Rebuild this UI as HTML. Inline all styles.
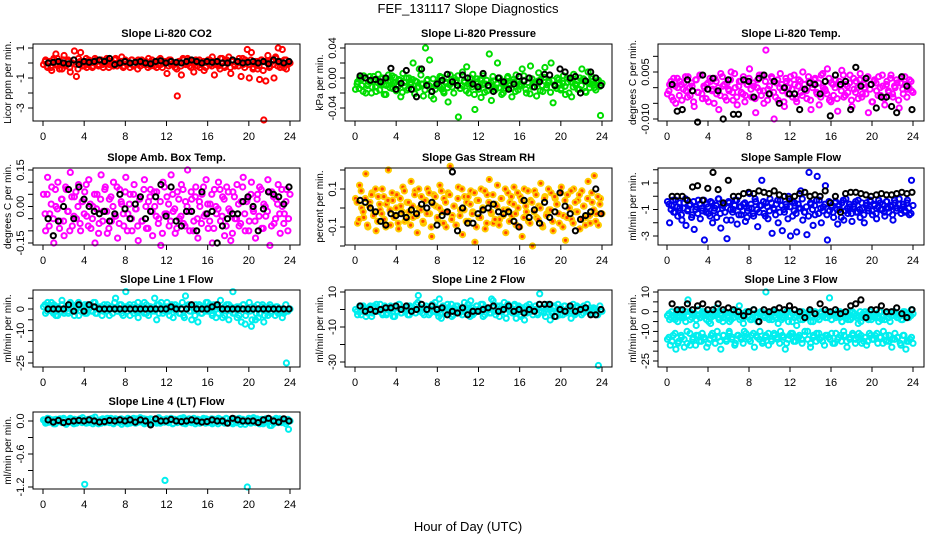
<!DOCTYPE html>
<html><head><meta charset="utf-8"><style>
body{margin:0;background:#fff}
svg{display:block;font-family:"Liberation Sans",sans-serif}
</style></head><body>
<svg id="chart" width="936" height="540" viewBox="0 0 936 540">
<rect width="936" height="540" fill="#fff"/>
<text x="468" y="13" text-anchor="middle" font-size="13">FEF_131117  Slope Diagnostics</text>
<text x="468" y="531" text-anchor="middle" font-size="13">Hour of Day (UTC)</text>
</svg>
<script>
const xTicks=[0,4,8,12,16,20,24];
const co2Color=[-0.1,0.2,-0.3,0.1,-0.5,0.3,0.6,-0.2,0.1,-0.4,0.5,-0.1,0.2,-0.6,0.0,0.8,-0.9,0.3,0.7,-0.2,0.1,-0.3,0.2,0.0,-0.2,0.3,0.1,-0.1,0.2,-0.3,0.0,0.2,-0.1,0.1,-0.2,0.3,0.0,-0.1,0.4,-0.2,0.1,0.0,-0.3,0.2,-0.1,0.1,0.2,-0.2,0.0,0.1,-0.1,0.3,-0.2,0.0,0.1,-0.3,0.2,-0.1,0.0,0.1,-0.7,0.2,-0.1,0.0,-0.3,-2.2,0.1,-0.8,0.2,-0.1,0.3,-0.2,0.0,-0.6,0.2,0.1,-0.3,0.0,-0.5,0.1,0.2,-0.1,0.4,-0.8,0.1,-0.2,0.3,0.0,-0.3,0.2,0.4,-0.7,0.1,-0.2,0.0,0.3,-0.9,-0.1,0.2,0.9,-1.0,0.7,-0.3,0.1,-0.4,-1.1,0.2,-3.8,-1.2,0.5,-0.2,0.1,-1.0,0.3,1.0,-0.3,0.9,0.2,-0.4,0.0];
const co2ColorB=[0.1,-0.2,0.0,-0.3,0.2,-0.1,0.3,-0.4,0.0,0.2,-0.2,0.1,-0.3,0.0,0.2,-0.1,-0.4,0.1,0.0,-0.2,0.3,-0.1,0.1,-0.3,0.0,0.2,-0.2,0.1,-0.1,0.0,0.3,-0.3,0.1,-0.1,0.2,-0.2,0.0,0.1,-0.3,0.2,-0.1,0.0,0.2,-0.2,0.1,-0.4,0.0,0.2,-0.1,0.1,-0.3,0.0,0.2,-0.2,0.1,-0.1,0.3,-0.3,0.0,0.1,-0.2,0.2,-0.1,0.0,-0.4,0.1,-0.2,0.3,0.0,-0.1,0.2,-0.3,0.1,0.0,-0.2,0.2,-0.1,0.1,-0.3,0.0,0.2,-0.2,0.1,-0.1,0.0,-0.4,0.3,-0.2,0.1,0.0,-0.3,0.2,-0.1,0.1,-0.2,0.0,0.3,-0.3,0.1,-0.1,0.2,-0.4,0.0,0.1,-0.2,0.2,-0.5,0.1,0.0,-0.3,0.2,-0.1,0.4,-0.2,0.0,0.1,-0.3,0.2,-0.1,0.0];
const co2Black=[0.0,0.05,0.1,0.0,-0.05,0.2,-0.1,0.1,0.05,0.1,0.2,0.1,0.3,-0.1,0.0,0.1,0.0,0.05,0.1,0.0,-0.05,0.1,0.15,0.0,0.1,0.05,0.0,0.1,0.2,0.1,0.0,0.1,0.05,0.1,0.0,0.0,0.2,0.1,0.0,0.05,0.1,0.0,0.1,-0.05,0.2,0.1,0.0,0.1];
const presColor=[-15,-5,0,-10,3,-20,-8,2,-12,-3,-18,5,-7,0,-22,-10,4,-5,-14,1,-9,-2,-25,6,-11,-16,0,-6,20,-4,-13,12,-8,-24,40,-2,24,-18,-28,-10,-5,2,-15,-20,-7,-32,4,-12,0,-3,-52,-14,8,-6,15,-20,-9,5,-42,-1,-11,-26,3,-8,-17,32,-30,-4,-13,20,0,-22,-7,-14,2,-10,-25,-5,4,-16,-8,12,-3,-20,0,16,-12,-6,-24,7,-2,-18,14,-9,-4,20,-33,-11,0,-7,-14,3,-22,-6,-2,-25,5,-10,-15,0,12,-4,-19,8,-8,-1,-13,-5,-3,-50];
const presColorB=[-8,-14,-2,-18,0,-10,-5,-20,2,-12,-6,-16,-1,-9,-22,-4,-13,3,-7,-17,-11,-3,-19,-6,0,-14,-9,-2,-21,-5,-12,4,-8,-16,-3,-10,-24,-1,-15,-7,-11,1,-18,-5,-13,-9,-2,-20,-6,3,-14,-10,-4,-17,-8,0,-12,-22,-5,-15,-1,-9,-19,-3,-11,-6,2,-16,-8,-13,-4,-20,-10,0,-7,-14,-2,-18,-5,-11,-9,3,-15,-6,-21,-1,-12,-8,-4,-17,-10,1,-13,-6,-19,-3,-9,-14,-2,-16,-7,-11,0,-20,-5,-12,-8,-3,-15,-10,-1,-18,-6,-13,2,-9,-16,-4,-11,-7];
const presBlack=[3,0,-3,-2,-5,0,13,-15,-7,10,-15,-25,12,-10,-18,-8,-3,5,-5,-10,4,0,-8,-12,6,-10,-18,0,-5,-15,-8,2,-4,0,-12,-5,5,4,-10,12,8,0,2,-20,-4,8,0,-10];
const ltempColor=[-20,10,-30,30,-50,0,20,-40,15,-10,35,-25,5,-60,25,-15,40,-35,0,10,-45,20,-5,30,-20,-70,45,5,-30,15,-10,50,-40,0,-55,20,-15,35,-25,10,60,-30,5,-80,25,-10,40,-50,120,-5,-20,30,-100,15,-40,45,-10,-60,20,0,35,-30,10,-45,25,-15,50,-5,-35,20,-70,10,30,-20,-55,40,0,-10,60,-40,15,-25,25,-75,5,55,-30,10,-15,40,-60,-5,20,-35,45,-20,0,30,-80,10,-45,25,-10,35,-25,5,-55,20,-15,40,-30,0,15,-65,30,-20,10,-5,25,-10];
const ltempColorB=[-10,20,-40,5,30,-25,10,-5,35,-30,0,15,-45,25,-15,40,-20,5,-35,15,30,-10,-50,20,0,-25,35,10,-40,-5,25,-15,45,-30,5,20,-20,-45,10,30,-5,15,-35,0,40,-25,-10,20,-40,5,35,-15,-30,25,0,10,-45,30,-20,15,-5,40,-35,5,20,-25,10,-10,35,-40,0,25,-15,15,-30,45,-5,-20,30,-45,10,0,-35,20,-10,40,-25,5,15,-40,30,-15,0,25,-30,10,-20,35,-5,-45,20,15,-25,0,40,-35,10,-10,30,-20,5,25,-40,15,-5,35,-30,0,20,-15];
const ltempBlack=[10,-75,-70,25,-10,-110,40,-5,30,-10,-100,25,-85,-85,25,20,-30,30,40,-20,20,-50,0,-20,-20,-70,-5,15,10,-20,20,-90,40,10,20,-70,65,5,30,10,-65,-30,-30,-60,-80,35,5,-70];
const boxColor=[5,-10,12,-3,8,-15,0,10,-6,3,-12,7,-2,14,-8,4,-5,9,-10,2,6,-4,11,-9,0,-15,5,-7,13,-2,8,-11,3,-6,10,-4,-13,7,1,-8,12,-3,5,-10,9,-1,-14,4,-6,11,-9,2,7,-12,0,6,-5,-16,10,-3,4,-8,13,-2,-11,6,-5,9,-7,2,15,-10,3,-6,8,-13,0,5,-4,11,-9,1,-15,7,-3,10,-6,4,-12,8,-1,-14,6,-5,9,-8,2,12,-10,3,-6,10,-2,-13,5,8,-9,1,-4,11,-16,6,-7,3,9,-11,0,-3,7,-5];
const boxColorB=[-3,5,-8,1,-5,7,-1,-9,3,-6,8,-2,-10,4,-4,6,0,-7,2,-3,9,-8,1,-5,5,-1,-11,3,-6,7,-2,-9,4,0,-4,8,-7,2,-3,6,-10,1,-5,5,-1,-8,3,-6,7,0,-9,4,-2,6,-4,-7,2,-11,8,-3,1,-6,5,-1,-9,3,-4,7,-8,0,-2,6,-10,4,-5,2,-7,8,-3,1,-6,5,-9,0,-1,7,-4,3,-8,6,-2,-11,4,-5,1,-7,8,-3,2,-10,5,-1,-6,3,-4,7,-9,0,-2,6,-8,4,-5,1,-3,7,-7,2,-10,5];
const boxBlack=[-5,-12,-6,0,7,-5,8,3,0,-2,-3,-2,-6,-3,5,-1,-5,1,4,-5,-2,4,9,-4,8,-6,-8,-2,-2,-10,6,-3,-2,-15,-8,-5,-3,-3,2,4,0,-10,-1,6,5,4,1,8];
const rhColor=[5,-8,12,0,-5,18,-10,3,8,-3,-12,6,-1,10,-6,2,20,-9,4,-4,7,-11,1,11,-7,3,-2,14,-5,9,-13,0,6,-8,4,10,-3,-15,7,1,-6,12,-2,5,-10,8,22,-4,1,-9,11,-1,-14,6,3,-7,9,-2,-18,4,-5,10,0,-11,7,15,-3,-8,2,12,-6,5,-1,-13,8,3,-4,11,-9,0,6,-15,10,-2,-7,4,-20,9,-5,1,13,-10,6,-3,-1,8,-12,5,2,-8,11,-4,-17,7,0,-6,10,-2,4,-11,9,1,-5,14,-8,3,17,-3,-9,5];
const rhColorB=[3,-6,9,-2,5,-9,1,7,-4,10,-7,2,-3,6,-10,4,-1,8,-5,0,-8,5,-2,9,-6,3,-9,1,7,-4,10,-1,-7,4,-3,8,-10,2,6,-5,0,9,-8,3,-2,7,-6,1,-9,5,-4,10,-1,-7,6,2,-3,8,-10,4,-5,0,9,-8,3,-2,7,-6,1,-9,5,-4,10,-1,-7,6,2,-3,8,-10,4,-5,1,9,-8,3,-2,7,-6,0,-9,5,-4,10,-1,-7,6,2,-3,8,-10,4,-5,0,9,-8,3,-2,7,-6,1,-9,5,-4,8,-1,-7,6,2,-3];
const rhBlack=[4,3,0,-2,-7,-9,-3,-4,-3,-5,-1,-3,2,0,3,-9,-4,-2,19,-12,0,-8,-8,-3,-1,0,2,-2,-3,-2,-7,-10,4,-5,-1,-8,3,-5,-2,8,1,-3,-12,-6,-4,-2,10,-3];
const sampColor=[-4,-20,-7,-12,-3,-15,-9,-18,-5,-22,-10,-6,-14,-25,-8,-3,-17,-11,-33,-6,-13,-4,-20,-9,-16,-2,-24,-7,-12,-32,-5,-18,-10,-3,-21,-8,-14,-6,-19,-11,2,-9,-15,-4,-23,-7,12,-13,-5,-17,-2,-28,-10,-6,-20,-3,-26,-12,-8,0,-30,-15,-5,-27,-9,4,-18,-12,-29,18,-6,-22,-14,15,-3,-20,-8,8,-33,-11,-7,-16,-4,-21,-10,-5,-18,-2,-13,-8,-19,-6,-12,-3,-16,-9,-20,-5,-11,-4,-14,-7,-17,-3,-10,-6,-15,-4,-12,-8,-18,-5,-9,-2,-13,-6,-11,-3,-14,12];
const sampColorB=[-6,-10,-3,-12,-8,-5,-14,-9,-2,-11,-7,-16,-4,-10,-13,-6,-9,-3,-12,-8,-15,-5,-11,-7,-2,-13,-9,-6,-18,-4,-10,-12,-7,-3,-14,-8,-11,-5,-16,-9,-6,-13,-2,-10,-12,-7,-4,-15,-8,-11,-5,-9,-14,-3,-12,-7,-10,-6,-17,-8,-4,-11,-13,-6,-9,-2,-12,-8,-15,-5,-10,-7,-3,-13,-9,-11,-6,-14,-4,-8,-12,-5,-10,-7,-16,-3,-11,-9,-6,-13,-8,-4,-12,-10,-5,-14,-7,-9,-3,-11,-6,-13,-8,-5,-10,-12,-4,-9,-7,-14,-3,-11,-6,-10,-8,-12,-5,-9,-13,-7];
const sampBlack=[0,0,0,-3,7,8,-3,6,18,5,-5,12,0,0,2,3,2,4,3,2,4,1,0,-2,0,2,3,0,1,0,4,-5,0,-12,2,3,3,2,1,0,1,2,1,1,2,3,2,3];
const l1Color=[1,-2,3,0,-1,2,-3,1,0,4,-2,1,-1,2,0,-3,1,3,-1,0,2,-2,0,1,-1,3,-2,0,1,-1,0,2,-3,1,0,5,-1,2,-2,0,8,1,-3,0,2,-1,-4,1,0,3,-2,0,1,-1,5,-5,2,0,-2,1,3,-1,0,-4,2,1,-2,0,-3,6,1,-1,-5,0,2,-6,1,-2,0,3,-1,2,-3,1,0,-2,4,-4,1,-1,2,0,8,-2,1,-3,0,2,-7,-1,3,-8,0,-5,2,-2,1,-6,0,-3,2,-1,0,1,-2,0,-4,-1,-25,0];
const l1ColorB=[2,-1,0,3,-2,1,-3,0,2,-1,1,-2,3,0,-1,2,-3,1,0,-2,2,1,-1,3,-2,0,1,-3,2,-1,0,1,-2,3,-1,0,2,-3,1,-1,2,0,-2,1,3,-1,0,-2,2,-3,1,0,-1,2,-2,3,0,-1,1,-3,2,0,-1,1,-2,3,-4,0,2,-1,1,-3,0,2,-2,1,-1,3,0,-2,2,-4,1,0,-1,-3,2,-5,1,-2,0,-4,1,-6,2,-3,0,-1,-5,1,-2,-4,0,2,-3,-1,1,-2,0,-3,1,-1,0,-2,2,-1,0];
const l1Black=[0,0,0,0,2,-1,2,-1,2,1,0,0,0,0,0,0,0,0,0,0,0,0,0,0,1,0,0,0,2,0,0,0,1,2,0,0,0,0,0,0,0,0,0,0,0,0,0,0];
const l2Color=[0,-3,2,-1,1,-4,0,2,-2,1,3,-1,0,-3,2,-2,1,0,-4,2,-1,3,-2,0,1,-3,2,-1,0,3,8,-1,-2,1,0,-3,2,-1,4,-2,6,-5,1,-2,3,0,-4,1,2,-1,0,-3,4,-2,1,5,-3,0,2,-1,3,-4,1,0,-2,6,1,-3,0,2,-1,4,-5,1,0,-2,3,-1,2,-4,1,0,-2,3,-1,0,2,-3,9,1,-2,0,3,-6,-1,2,-4,0,1,-3,2,-1,0,-5,3,-2,1,0,-3,2,-1,0,1,-2,0,-1,-32,0];
const l2ColorB=[-1,1,-3,2,0,-2,1,-4,2,-1,0,3,-2,1,-3,0,2,-1,-4,1,3,-2,0,-1,2,-3,1,0,-2,4,-1,1,-3,2,0,-2,3,-1,1,-4,0,2,-2,1,-1,3,-3,0,2,-2,1,-1,0,3,-4,1,-2,2,0,-1,3,-3,1,0,-2,5,-1,2,-4,0,1,-2,3,-1,0,2,-5,1,-3,0,-6,2,-1,1,-3,0,-2,3,-1,1,-4,2,0,-2,1,-1,3,-3,0,2,-2,1,-1,0,-3,2,-1,1,-2,0,3,-1,-2,1,0,-3,2,-1];
const l2Black=[2,-1,0,-1,0,1,1,2,0,2,-1,0,3,0,2,0,1,-3,-1,-2,1,-3,-1,-1,0,1,2,-1,0,2,-1,0,-2,0,-1,3,3,3,-4,0,-1,2,-1,0,1,-3,-3,0];
const l3ColorA=[-2,-4,0,-3,-1,-5,1,-2,-3,0,6,-4,-1,-2,-7,1,-3,-2,0,-4,-1,-6,-2,0,2,-3,-1,-5,0,-2,-3,-4,0,-1,-2,3,-3,-6,-1,0,-2,-4,1,-3,-5,-1,0,-2,10,-3,-1,-4,-2,0,-6,-1,-3,-2,0,-5,-2,-1,-3,-7,0,-2,-4,-1,-3,0,-2,-5,-1,-3,-4,0,-2,-1,-3,7,-4,-1,-2,0,-3,-5,-1,-2,-4,0,-3,-1,-2,-6,0,-3,-2,-1,-4,0,-2,-3,-1,-5,0,-2,-4,-1,-3,-2,0,-1,-3,-2,-4,0,-1,-3,-2,1];
const l3ColorA2=[-1,-3,-2,-4,0,-2,-3,-1,-5,-2,0,-3,-1,-4,-2,-3,0,-1,-2,-5,-3,-1,-2,0,-4,-2,-3,-1,-2,-5,0,-3,-1,-2,-4,-1,-3,0,-2,-4,-3,-1,-2,-5,0,-2,-3,-1,-4,-2,0,-3,-1,-2,-4,-3,-1,0,-2,-5,-3,-2,-1,-4,0,-2,-3,-1,-5,-2,0,-3,-4,-1,-2,-3,0,-2,-4,-1,-3,-2,0,-5,-1,-3,-2,-4,0,-1,-3,-2,-5,-1,0,-3,-2,-4,-1,-2,-3,0,-4,-2,-1,-3,-5,-2,0,-1,-3,-2,-4,0,-1,-3,-2,-1];
const l3ColorB=[-14,-17,-12,-19,-15,-13,-18,-16,-11,-14,-17,-12,-15,-13,-18,-14,-11,-16,-13,-19,-12,-15,-10,-14,-17,-12,-13,-16,-11,-14,-12,-18,-13,-10,-15,-12,-17,-14,-11,-13,-16,-12,-19,-14,-11,-15,-13,-12,-16,-10,-14,-18,-12,-15,-11,-13,-17,-12,-14,-16,-11,-13,-15,-12,-18,-14,-11,-16,-13,-12,-15,-17,-11,-14,-12,-16,-13,-10,-15,-12,-18,-14,-13,-16,-12,-19,-15,-13];
const l3ColorB2=[-13,-15,-11,-16,-12,-14,-10,-17,-13,-12,-15,-11,-14,-16,-12,-13,-10,-15,-12,-14,-11,-13,-16,-12,-14,-10,-13,-15,-11,-12,-14,-16,-13,-11,-15,-12,-14,-10,-13,-16,-12,-11,-15,-13,-14,-12,-10,-16,-13,-11,-14,-15,-12,-13,-11,-16,-14,-12,-10,-15,-13,-12,-14,-11,-16,-13,-15,-12,-14,-11,-13,-16,-12,-15,-14,-11,-13,-17,-12,-15,-14,-16];
const l3Black=[4,1,1,4,1,3,4,1,1,4,1,2,1,0,-2,0,1,-5,1,0,1,2,1,3,1,0,-3,1,-1,4,1,0,1,-1,0,3,4,6,-3,1,1,3,0,0,2,-1,-3,1];
const l4Color=[0.02,-0.04,0.05,-0.02,0.01,-0.05,0.03,-0.01,0.04,-0.03,0.02,-0.06,0.0,0.05,-0.02,0.03,-0.04,0.01,-0.01,0.06,-1.15,0.02,-0.03,0.04,-0.05,0.07,-0.02,0.01,-0.04,0.03,-0.01,0.05,-0.03,0.02,-0.05,0.04,-0.01,0.03,-0.06,0.02,-0.02,0.05,-0.04,0.0,-0.03,0.04,-0.02,0.06,-0.01,-0.05,0.03,-0.02,0.04,-0.03,0.01,-0.04,0.06,-0.02,0.02,-1.08,0.03,-0.01,0.05,-0.04,0.01,-0.03,0.04,-0.02,0.06,-0.05,0.02,0.0,-0.03,0.05,-0.01,0.03,-0.04,0.02,-0.02,0.04,-0.03,0.01,-0.05,0.03,-0.01,0.05,-0.02,0.02,-0.04,0.04,-0.02,0.03,-0.05,0.01,-0.03,0.05,-0.01,0.02,-0.06,-1.2,0.04,-0.02,0.06,-0.03,0.01,-0.05,0.03,-0.02,0.04,-0.01,-0.08,0.02,-0.04,0.05,-0.03,0.01,-0.02,0.03,-0.01,-0.15];
const l4ColorB=[0.01,-0.03,0.04,-0.01,0.02,-0.05,0.0,0.03,-0.02,0.05,-0.04,0.01,-0.02,0.03,-0.05,0.02,0.0,0.04,-0.03,0.01,-0.04,0.03,-0.01,0.05,-0.02,0.0,-0.05,0.02,0.04,-0.03,0.01,-0.01,0.05,-0.04,0.02,0.0,-0.03,0.04,-0.02,0.01,-0.05,0.03,-0.01,0.05,-0.04,0.0,0.02,-0.02,0.04,-0.03,0.01,-0.05,0.03,0.0,-0.01,0.05,-0.04,0.02,-0.02,0.04,-0.03,0.01,-0.05,0.03,0.0,-0.01,0.05,-0.04,0.02,-0.02,0.04,-0.03,0.01,-0.05,0.03,0.0,-0.01,0.05,-0.04,0.02,-0.02,0.04,-0.03,0.01,-0.05,0.03,0.0,-0.01,0.05,-0.04,0.02,-0.02,0.04,-0.03,0.01,-0.06,0.03,0.0,-0.01,0.05,-0.04,0.02,-0.02,0.04,-0.03,0.01,-0.05,0.03,0.0,-0.01,-0.08,-0.04,0.02,-0.02,0.04,-0.03,0.01,-0.05,0.03,0.0];
const l4Black=[0.02,-0.02,0.01,-0.03,-0.01,0.0,0.01,0.0,0.02,0.0,-0.02,-0.01,0.01,0.0,0.02,0.0,0.02,-0.02,0.02,0.0,-0.07,0.04,0.0,0.0,0.03,0.0,-0.01,0.0,0.02,0.0,-0.02,-0.01,0.02,0.0,0.0,-0.04,0.05,0.02,0.0,0.0,0.0,-0.03,0.02,0.05,0.0,-0.02,0.04,0.0];
const yTicks={co2:[1,0,-1,-2,-3],pres:[0.04,0.02,0,-0.02,-0.04],lt:[0.01,0.005,0,-0.005,-0.01],box:[0.15,0.10,0.05,0,-0.05,-0.10,-0.15],rh:[0.2,0.1,0,-0.1,-0.2],samp:[2,1,0,-1,-2,-3],l1:[5,0,-5,-10,-15,-20,-25],l2:[10,0,-10,-20,-30],l3:[10,5,0,-5,-10,-15,-20,-25],l4:[0,-0.3,-0.6,-0.9,-1.2]};
const yLabels={co2:["1","-1","-3"],pres:["0.04","0.00","-0.04"],lt:["0.005","-0.010"],box:["0.15","0.00","-0.15"],rh:["0.1","-0.1"],samp:["1","-1","-3"],l1:["0","-10","-25"],l2:["10","-10","-30"],l3:["10","0","-10","-25"],l4:["0.0","-0.6","-1.2"]};

const NS="http://www.w3.org/2000/svg";
const svg=document.getElementById('chart');
function mk(tag,attrs,parent){const e=document.createElementNS(NS,tag);for(const k in attrs)e.setAttribute(k,attrs[k]);(parent||svg).appendChild(e);return e;}
const cols=[{l:33,r:300,x0:43,x1:290},{l:345,r:612,x0:355,x1:602},{l:658,r:924,x0:667,x1:913}];
const rows=[{t:44,b:121},{t:168,b:245},{t:290,b:367},{t:412,b:489}];
const panels=[
 {key:'co2',name:'co2',title:'Slope Li-820 CO2',ylab:'Licor ppm per min.',c:0,r:0,v1:1,p1:48,v2:-3,p2:108,k:1,series:[{d:co2Color,col:'#ff0000'},{d:co2ColorB,col:'#ff0000'}],black:co2Black},
 {key:'pres',name:'pressure',title:'Slope Li-820 Pressure',ylab:'kPa per min.',c:1,r:0,v1:0.04,p1:48,v2:-0.04,p2:108,k:0.001,series:[{d:presColor,col:'#00dd00'},{d:presColorB,col:'#00dd00'}],black:presBlack},
 {key:'lt',name:'li820-temp',title:'Slope Li-820 Temp.',ylab:'degrees C per min.',c:2,r:0,v1:0.005,p1:72,v2:-0.01,p2:119,k:0.0001,series:[{d:ltempColor,col:'#ff00ff'},{d:ltempColorB,col:'#ff00ff'}],black:ltempBlack},
 {key:'box',name:'amb-box-temp',title:'Slope Amb. Box Temp.',ylab:'degrees C per min.',c:0,r:1,v1:0.15,p1:170,v2:-0.15,p2:243,k:0.01,series:[{d:boxColor,col:'#ff00ff'},{d:boxColorB,col:'#ff00ff'}],black:boxBlack},
 {key:'rh',name:'gas-stream-rh',title:'Slope Gas Stream RH',ylab:'percent per min.',c:1,r:1,v1:0.1,p1:189,v2:-0.1,p2:227,k:0.01,series:[{d:rhColor,col:'#ffcc00',in:'#ff4400'},{d:rhColorB,col:'#ffcc00',in:'#ff4400'}],black:rhBlack},
 {key:'samp',name:'sample-flow',title:'Slope Sample Flow',ylab:'ml/min per min.',c:2,r:1,v1:1,p1:183,v2:-3,p2:236,k:0.1,series:[{d:sampColor,col:'#0000ee'},{d:sampColorB,col:'#0000ee'}],black:sampBlack},
 {key:'l1',name:'line1-flow',title:'Slope Line 1 Flow',ylab:'ml/min per min.',c:0,r:2,v1:0,p1:309,v2:-25,p2:363,k:1,series:[{d:l1Color,col:'#00eeee'},{d:l1ColorB,col:'#00eeee'}],black:l1Black},
 {key:'l2',name:'line2-flow',title:'Slope Line 2 Flow',ylab:'ml/min per min.',c:1,r:2,v1:10,p1:292,v2:-30,p2:362,k:1,series:[{d:l2Color,col:'#00eeee'},{d:l2ColorB,col:'#00eeee'}],black:l2Black},
 {key:'l3',name:'line3-flow',title:'Slope Line 3 Flow',ylab:'ml/min per min.',c:2,r:2,v1:10,p1:292,v2:-25,p2:361,k:1,series:[{d:l3ColorA,col:'#00eeee'},{d:l3ColorA2,col:'#00eeee'},{d:l3ColorB,col:'#00eeee'},{d:l3ColorB2,col:'#00eeee'}],black:l3Black},
 {key:'l4',name:'line4-flow',title:'Slope Line 4 (LT) Flow',ylab:'ml/min per min.',c:0,r:3,v1:0,p1:421,v2:-1.2,p2:487,k:1,series:[{d:l4Color,col:'#00eeee'},{d:l4ColorB,col:'#00eeee'}],black:l4Black}
];
panels.forEach(p=>{
 const C=cols[p.c],R=rows[p.r];
 const g=mk('g',{});
 
 
 const xs=h=>C.x0+(C.x1-C.x0)*h/24;
 const ys=v=>p.p1+(p.p2-p.p1)*(v-p.v1)/(p.v2-p.v1);
 const t=mk('text',{x:(C.l+C.r)/2,y:R.t-7,'text-anchor':'middle','font-size':11,'font-weight':'bold'},g);
 t.textContent=p.title;
 
 
 p.series.forEach((s,si)=>{
  const n=s.d.length;
  const off=si%2?0.2:0.05;
  s.d.forEach((v,i)=>{
   const h=off+23.8*i/(n-1);
   const c=mk('circle',{cx:xs(h).toFixed(1),cy:ys(v*p.k).toFixed(1),r:2.6,fill:s.in||'none',stroke:s.col,'stroke-width':2},g);
   
   
  });
 });
 const nb=p.black.length;
 p.black.forEach((v,i)=>{
  const h=0.5+23.4*i/(nb-1);
  const c=mk('circle',{cx:xs(h).toFixed(1),cy:ys(v*p.k).toFixed(1),r:2.6,fill:'none',stroke:'#000','stroke-width':2},g);
  
  
 });
 const box=mk('rect',{x:C.l,y:R.t,width:C.r-C.l,height:R.b-R.t,fill:'none',stroke:'#000','stroke-width':1},g);
 
 
 xTicks.forEach(h=>{
  const x=xs(h);
  mk('line',{x1:x,x2:x,y1:R.b,y2:R.b+5,stroke:'#000'},g);
  const tl=mk('text',{x:x,y:R.b+19,'text-anchor':'middle','font-size':11},g);
  tl.textContent=h;
  
  
 });
 yTicks[p.key].forEach(v=>{
  const y=ys(v);
  mk('line',{x1:C.l-5,x2:C.l,y1:y,y2:y,stroke:'#000'},g);
 });
 yLabels[p.key].forEach(s=>{
  const y=ys(parseFloat(s));
  const tl=mk('text',{x:0,y:0,'text-anchor':'middle','font-size':11,transform:`translate(${C.l-9},${y}) rotate(-90)`},g);
  tl.textContent=s;
  
  
 });
 const yl=mk('text',{x:0,y:0,'text-anchor':'middle','font-size':10,transform:`translate(${C.l-22},${(R.t+R.b)/2}) rotate(-90)`},g);
 yl.textContent=p.ylab;
 
 
});
</script>
</body></html>
